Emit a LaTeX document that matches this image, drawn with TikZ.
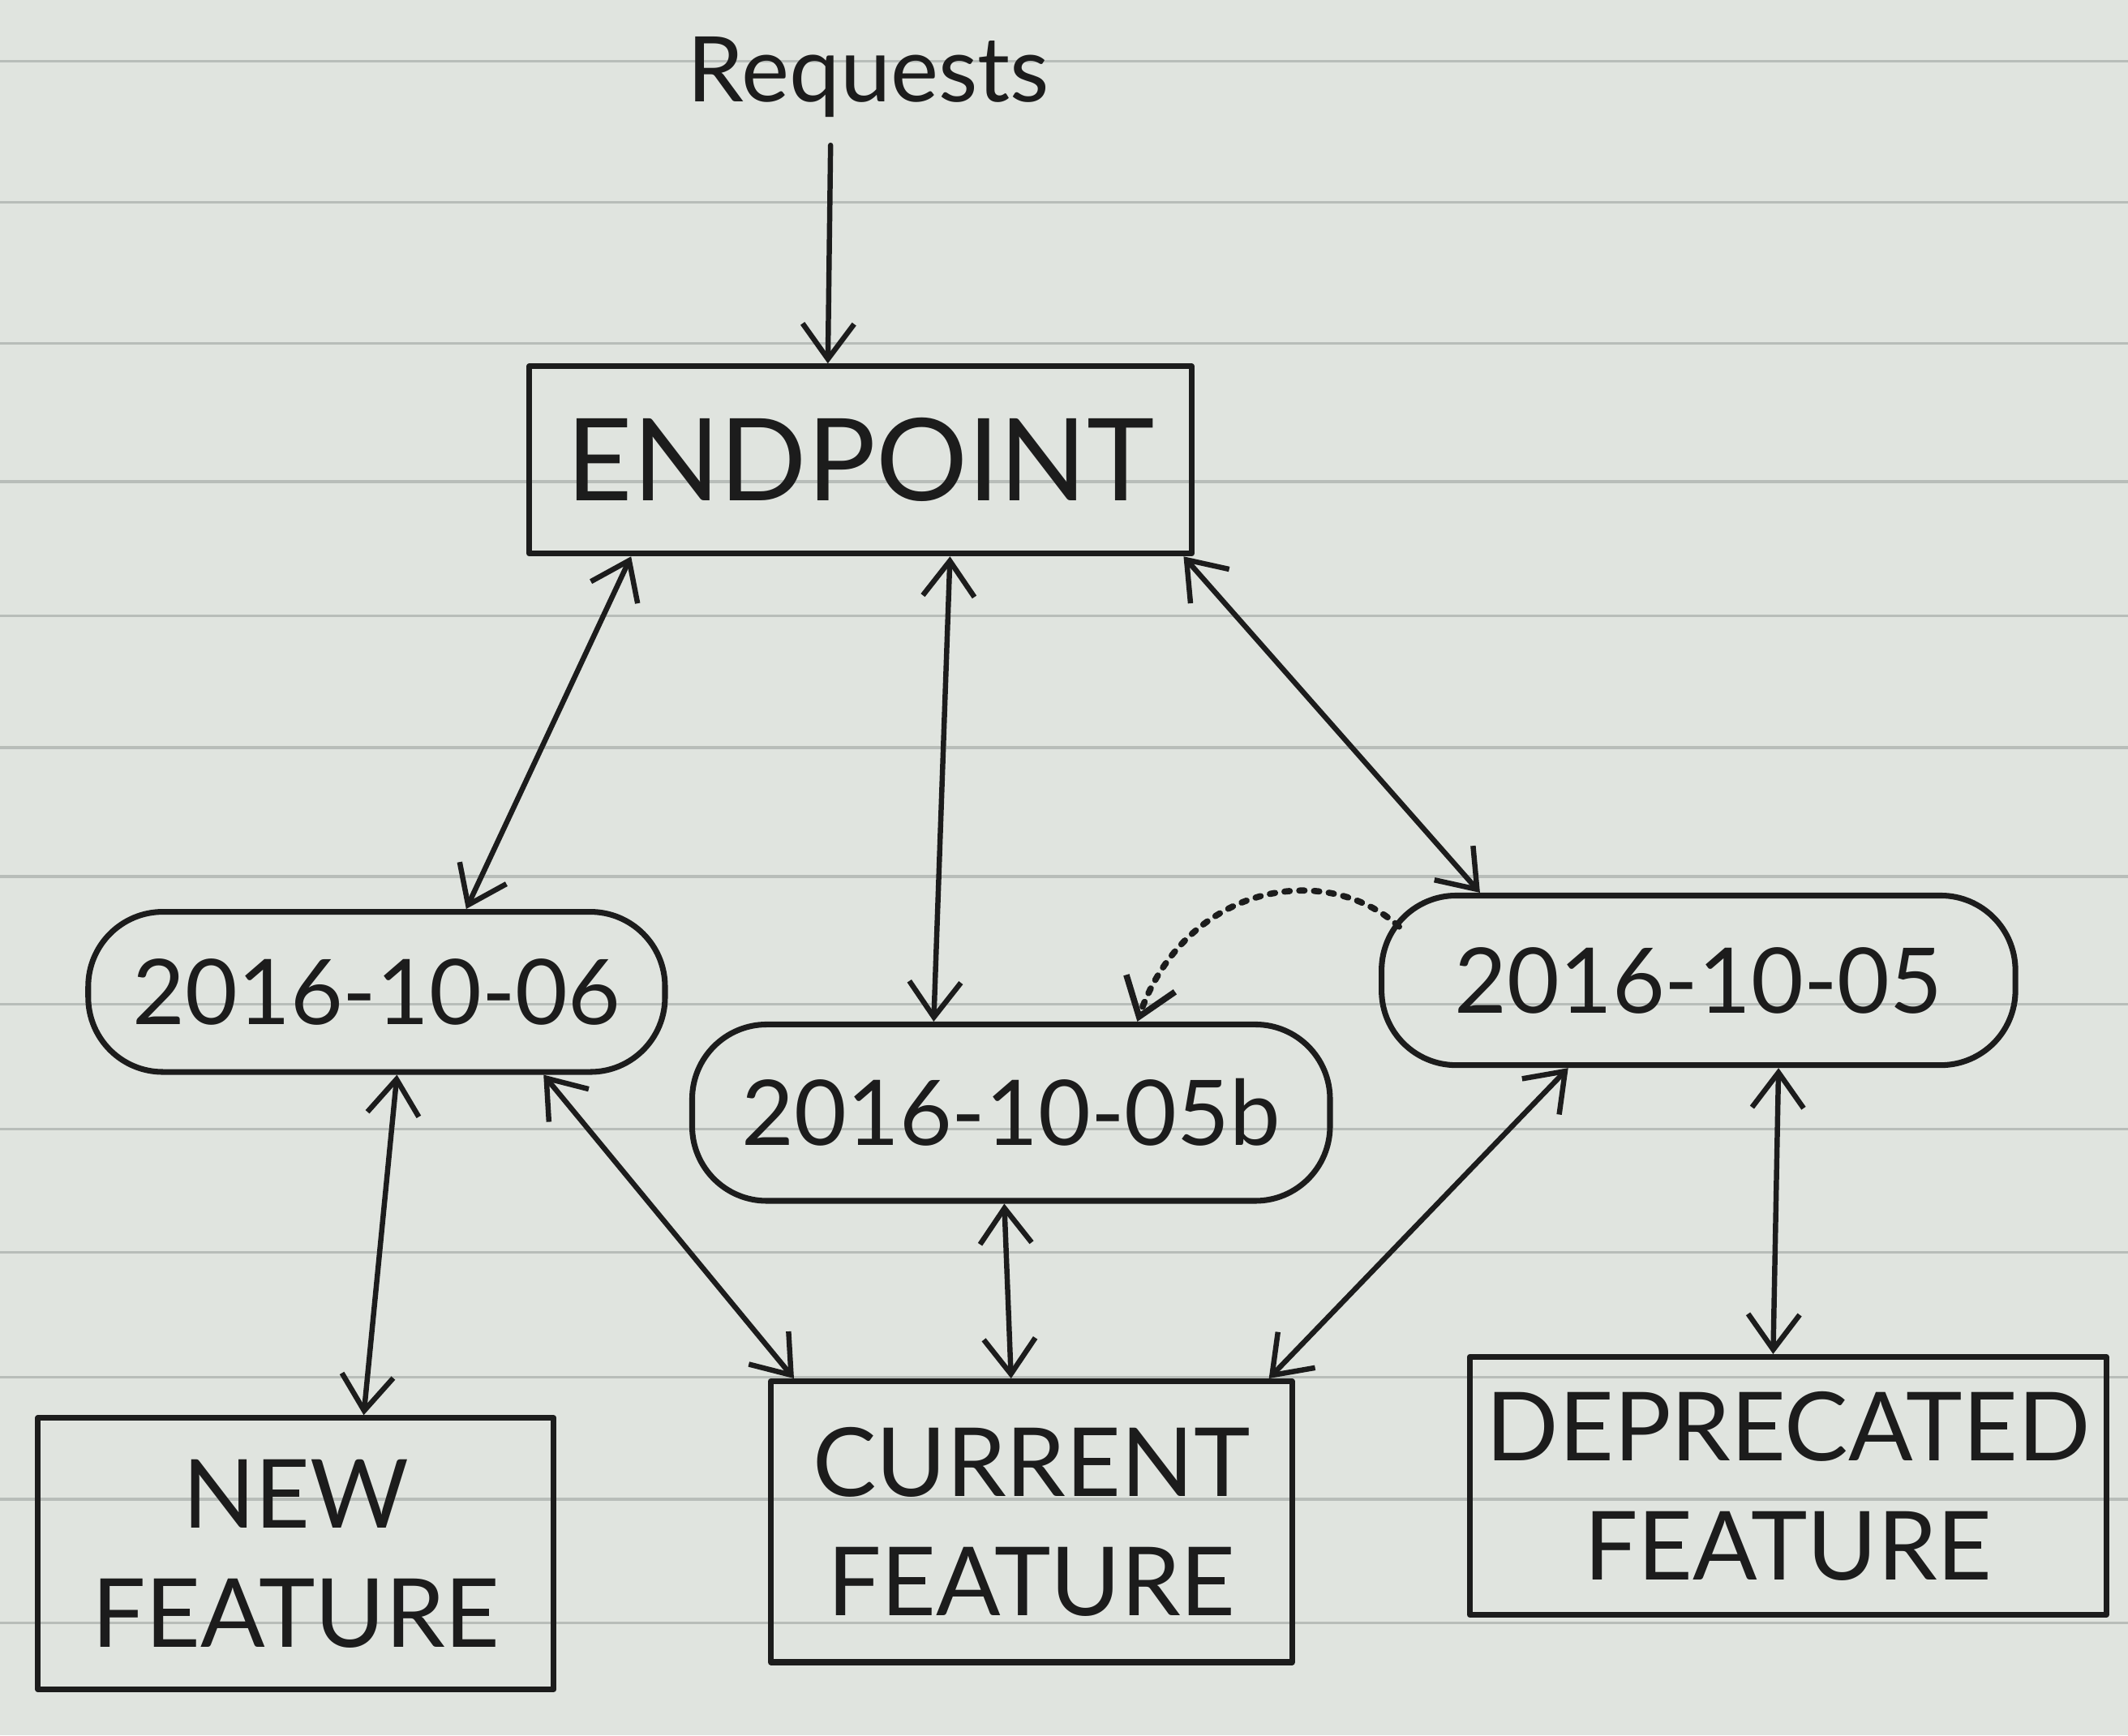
\documentclass[tikz,border=0pt]{standalone}
\usepackage{fontspec}
\setmainfont{Lato}
\usetikzlibrary{arrows.meta}
\definecolor{paper}{RGB}{224,228,223}
\definecolor{paperline}{RGB}{184,189,185}
\definecolor{ink}{RGB}{28,28,28}
\begin{document}
\begin{tikzpicture}[>={Straight Barb[length=2.6mm,width=3.8mm]}, line join=round, line cap=round,
		featbox/.style={draw=ink, line width=1.2pt, align=center, text=ink, inner sep=0pt, font=\fontsize{20}{25}\selectfont},
		verbox/.style={draw=ink, line width=1.2pt, rounded corners=0.55cm, text=ink, inner sep=0pt, font=\fontsize{19}{24}\selectfont},
		link/.style={draw=ink, line width=1.1pt}]
				\useasboundingbox (0,0) rectangle (15.68,12.79);
				\fill [paper] (0,0) rectangle (15.68,12.79);
				\foreach \y in {12.34,11.30,10.26,9.24,8.25,7.28,6.33,5.39,4.47,3.56,2.64,1.74,0.83}
					\draw [paperline, line width=0.6pt] (0,\y)--(15.68,\y);
				% endpoint and versions
				\node [text=ink, font=\fontsize{19}{24}\selectfont] (req) at (6.40,12.22) {Requests};
				\node [featbox, minimum width=4.88cm, minimum height=1.38cm, font=\fontsize{24}{30}\selectfont] (endpoint) at (6.34,9.40) {ENDPOINT};
				\node [verbox, minimum width=4.25cm, minimum height=1.18cm] (d06) at (2.775,5.48) {2016-10-06};
				\node [verbox, minimum width=4.70cm, minimum height=1.30cm] (d05b) at (7.45,4.59) {2016-10-05b};
				\node [verbox, minimum width=4.67cm, minimum height=1.25cm] (d05) at (12.515,5.565) {2016-10-05};
				% features
				\node [featbox, minimum width=3.80cm, minimum height=2.00cm] (newf) at (2.18,1.34) {NEW\\FEATURE};
				\node [featbox, minimum width=3.84cm, minimum height=2.07cm] (curf) at (7.60,1.575) {CURRENT\\FEATURE};
				\node [featbox, minimum width=4.69cm, minimum height=1.90cm] (depf) at (13.175,1.84) {DEPRECATED\\FEATURE};
				% connectors
				\draw [link, ->] ([xshift=-0.28cm, yshift=-0.08cm]req.south)--([xshift=-0.24cm]endpoint.north);
				\draw [link, <->] ([xshift=-1.69cm]endpoint.south)--([xshift=0.66cm]d06.north);
				\draw [link, <->] ([xshift=0.66cm]endpoint.south)--([xshift=-0.57cm]d05b.north);
				\draw [link, <->] ([xshift=-0.08cm]endpoint.south east)--([xshift=-1.61cm]d05.north);
				\draw [link, dotted, line width=1.3pt, ->] ([xshift=0.15cm, yshift=-0.25cm]d05.north west)
					.. controls +(-0.55,0.5) and +(0.35,1.0) .. ([xshift=0.93cm]d05b.north);
				\draw [link, <->] ([xshift=0.15cm]d06.south)--([xshift=0.50cm]newf.north);
				\draw [link, <->] ([xshift=1.23cm]d06.south)--([xshift=-1.75cm]curf.north);
				\draw [link, <->] ([xshift=-0.05cm]d05b.south)--([xshift=-0.15cm]curf.north);
				\draw [link, <->] ([xshift=-0.96cm]d05.south)--([xshift=1.75cm]curf.north);
				\draw [link, <->] ([xshift=0.59cm]d05.south)--([xshift=-0.11cm]depf.north);
			\end{tikzpicture}
\end{document}
